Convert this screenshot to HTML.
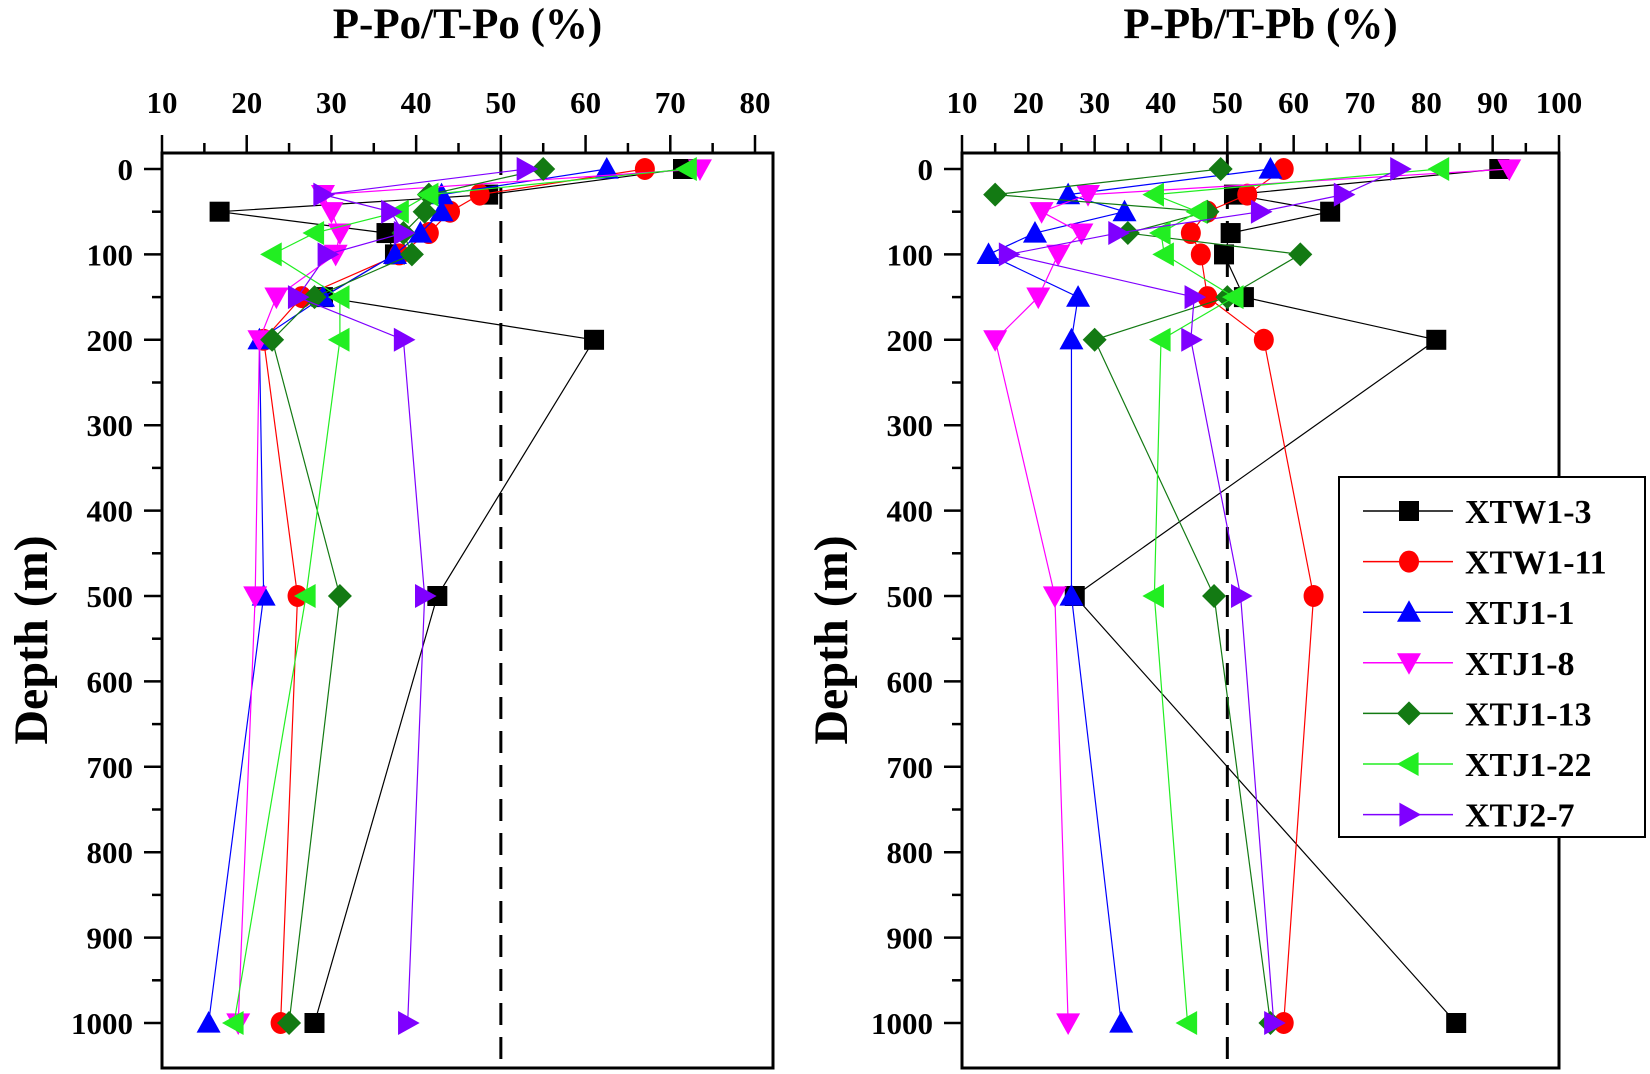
<!DOCTYPE html>
<html><head><meta charset="utf-8"><style>
html,body{margin:0;padding:0;background:#fff;}
svg{display:block;font-family:"Liberation Serif",serif;font-weight:bold;}
</style></head><body>
<svg id="chart" width="1650" height="1074" viewBox="0 0 1650 1074" xmlns="http://www.w3.org/2000/svg"></svg>
<script>
const depths = [0, 30, 50, 75, 100, 150, 200, 500, 1000];
const seriesNames = ["XTW1-3","XTW1-11","XTJ1-1","XTJ1-8","XTJ1-13","XTJ1-22","XTJ2-7"];
const poXTW13 = [71.5, 48.5, 16.8, 36.5, 37.5, 29, 61, 42.5, 28];
const poXTW111 = [67, 47.5, 44, 41.5, 38, 26.5, 22, 26, 24];
const poXTJ11 = [62.5, 43, 43, 40.5, 37.5, 29, 21.5, 22, 15.5];
const poXTJ18 = [73.5, 29, 30, 31, 30.5, 23.5, 21.5, 21, 19];
const poXTJ113 = [55, 41.5, 41, 38.5, 39.5, 28, 23, 31, 25];
const poXTJ122 = [72, 41.5, 38, 28, 23, 31, 31, 27, 18.5];
const poXTJ27 = [53, 29, 37, 38.5, 29.5, 26, 38.5, 41, 39];
const pbXTW13 = [91, 51, 65.5, 50.5, 49.5, 52.5, 81.5, 27, 84.5];
const pbXTW111 = [58.5, 53, 47, 44.5, 46, 47, 55.5, 63, 58.5];
const pbXTJ11 = [56.5, 26, 34.5, 21, 14, 27.5, 26.5, 26.5, 34];
const pbXTJ18 = [92.5, 29, 22, 28, 24.5, 21.5, 15, 24, 26];
const pbXTJ113 = [49, 15, 47, 35, 61, 50, 30, 48, 56.5];
const pbXTJ122 = [82, 39, 45.5, 40, 40.5, 51, 40, 39, 44];
const pbXTJ27 = [76, 67.5, 55, 33.5, 17, 45, 44.5, 52, 57];
const poTicks = [10,20,30,40,50,60,70,80];
const pbTicks = [10,20,30,40,50,60,70,80,90,100];
const depthTicks = [0,100,200,300,400,500,600,700,800,900,1000];

const NS="http://www.w3.org/2000/svg";
const svg=document.getElementById('chart');
const colors=["#000000","#ff0000","#0000ff","#ff00ff","#137a13","#22ee22","#7f00ff"];
const shapes=["square","circle","up","down","diamond","left","right"];
function mk(tag,attrs,parent){const e=document.createElementNS(NS,tag);for(const k in attrs)e.setAttribute(k,attrs[k]);(parent||svg).appendChild(e);return e;}
function marker(shape,x,y,c,g){
  const r=12;let e;
  if(shape==="square"){e=mk('rect',{x:x-10,y:y-10,width:20,height:20,fill:c},g);}
  else if(shape==="circle"){e=mk('ellipse',{cx:x,cy:y,rx:10,ry:11,fill:c},g);}
  else{let p;
    if(shape==="up")p=[[x,y-r],[x+r,y+r*0.8],[x-r,y+r*0.8]];
    else if(shape==="down")p=[[x,y+r],[x+r,y-r*0.8],[x-r,y-r*0.8]];
    else if(shape==="diamond")p=[[x,y-r],[x+r,y],[x,y+r],[x-r,y]];
    else if(shape==="left")p=[[x-r,y],[x+r*0.8,y-r],[x+r*0.8,y+r]];
    else p=[[x+r,y],[x-r*0.8,y-r],[x-r*0.8,y+r]];
    e=mk('polygon',{points:p.map(q=>q.join(',')).join(' '),fill:c},g);}
  return e;
}
function panel(opt){
  const {x0,x1,frameR,vmin,vmax,ticks,series,title,name}=opt;
  const top=153,bottom=1068;
  const xs=v=>x0+(v-vmin)/(vmax-vmin)*(x1-x0);
  const ys=d=>169+d*0.854;
  const g=mk('g',{});
  
  
  const t=mk('text',{x:(x0+frameR)/2,y:38,'text-anchor':'middle','font-size':43},g);
  t.textContent=title;
  
  
  const yt=mk('text',{x:0,y:0,'text-anchor':'middle','font-size':48,transform:`translate(${x0-115},${640}) rotate(-90)`},g);
  yt.textContent="Depth (m)";
  
  
  ticks.forEach((v,i)=>{
    const x=xs(v);
    mk('line',{x1:x,x2:x,y1:top,y2:top-18,stroke:'#000','stroke-width':2.5},g);
    if(i<ticks.length-1){const xm=xs(v+(ticks[1]-ticks[0])/2);mk('line',{x1:xm,x2:xm,y1:top,y2:top-10,stroke:'#000','stroke-width':2.5},g);}
    const l=mk('text',{x:x,y:113,'text-anchor':'middle','font-size':31},g);
    l.textContent=v;
    
    
  });
  depthTicks.forEach((d,i)=>{
    const y=ys(d);
    mk('line',{x1:x0,x2:x0-18,y1:y,y2:y,stroke:'#000','stroke-width':2.5},g);
    if(i<depthTicks.length-1){const ym=ys(d+50);mk('line',{x1:x0,x2:x0-10,y1:ym,y2:ym,stroke:'#000','stroke-width':2.5},g);}
    const l=mk('text',{x:x0-29,y:y+11,'text-anchor':'end','font-size':31},g);
    l.textContent=d;
    
    
  });
  const dl=mk('line',{x1:xs(50),x2:xs(50),y1:top,y2:bottom,stroke:'#000','stroke-width':3,'stroke-dasharray':'22,12'},g);
  
  
  series.forEach((vals,si)=>{
    const sg=mk('g',{},g);
    
    
    const pts=vals.map((v,i)=>xs(v)+','+ys(depths[i])).join(' ');
    mk('polyline',{points:pts,fill:'none',stroke:colors[si],'stroke-width':1.2},sg);
    vals.forEach((v,i)=>{
      const m=marker(shapes[si],xs(v),ys(depths[i]),colors[si],sg);
      
      
    });
  });
  const fr=mk('rect',{x:x0,y:top,width:frameR-x0,height:bottom-top,fill:'none',stroke:'#000','stroke-width':3},g);
  
  
}
panel({x0:162,x1:755,frameR:773,vmin:10,vmax:80,ticks:poTicks,title:"P-Po/T-Po (%)",name:"po",
  series:[poXTW13,poXTW111,poXTJ11,poXTJ18,poXTJ113,poXTJ122,poXTJ27]});
panel({x0:962,x1:1559,frameR:1559,vmin:10,vmax:100,ticks:pbTicks,title:"P-Pb/T-Pb (%)",name:"pb",
  series:[pbXTW13,pbXTW111,pbXTJ11,pbXTJ18,pbXTJ113,pbXTJ122,pbXTJ27]});
const lg=mk('g',{});


mk('rect',{x:1339,y:477,width:306,height:360,fill:'#fff',stroke:'#000','stroke-width':2},lg);
seriesNames.forEach((n,i)=>{
  const y=511+i*50.6;
  const e=mk('g',{},lg);
  
  
  mk('line',{x1:1363,x2:1453,y1:y,y2:y,stroke:colors[i],'stroke-width':1.5},e);
  marker(shapes[i],1409,y,colors[i],e);
  const t=mk('text',{x:1465,y:y+12,'font-size':34},e);
  t.textContent=n;
});
</script>
</body></html>
